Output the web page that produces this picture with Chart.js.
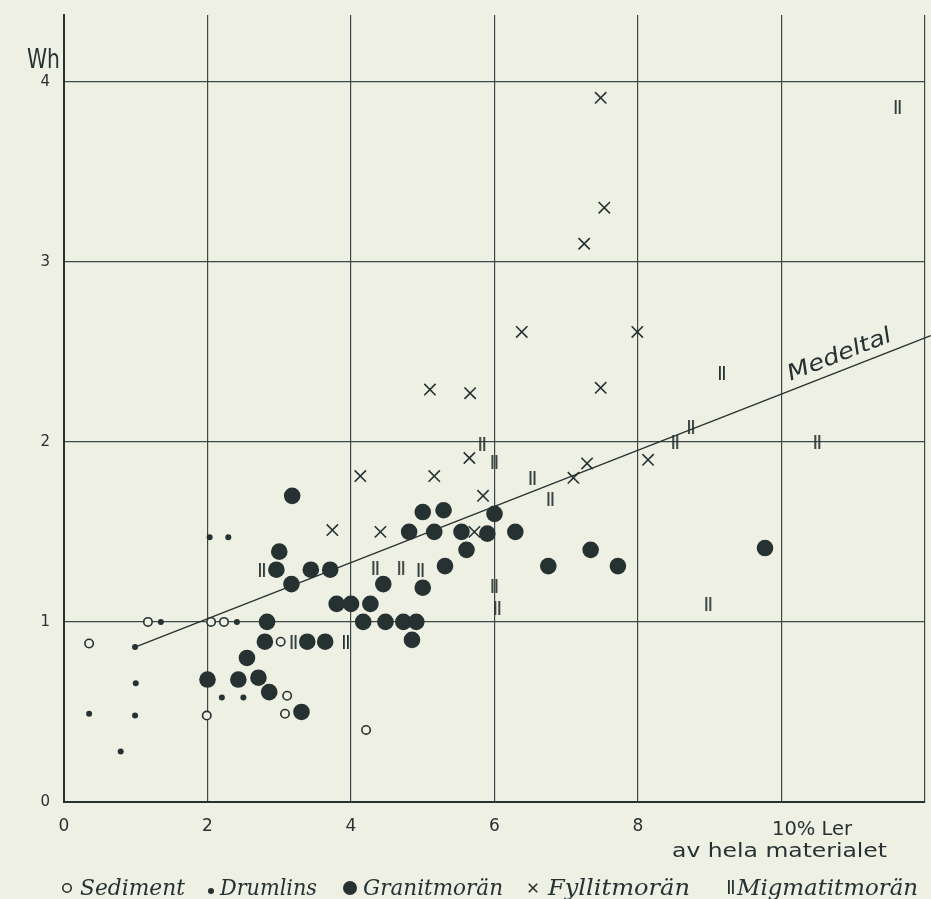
<!DOCTYPE html>
<html>
<head>
<meta charset="utf-8">
<script src="https://cdn.jsdelivr.net/npm/chart.js@4.4.1/dist/chart.umd.min.js"></script>
<style>
  html, body { margin: 0; padding: 0; background: #eff0e4; }
  #wrap { width: 931px; height: 899px; }
</style>
</head>
<body>
<div id="wrap"><canvas id="lerChart" width="931" height="899"></canvas></div>
<script>
// x = % Ler av hela materialet, y = Wh
const sediment = [[0.35, 0.88], [1.17, 1.0], [2.05, 1.0], [2.23, 1.0], [3.02, 0.89], [3.11, 0.59],
    [1.99, 0.48], [3.08, 0.49], [4.21, 0.40]];
const drumlins = [[1.35, 1.0], [2.41, 1.0], [0.99, 0.86], [2.03, 1.47], [2.29, 1.47], [1.0, 0.66],
    [0.35, 0.49], [0.99, 0.48], [0.79, 0.28], [2.2, 0.58], [2.5, 0.58]];
const granit = [[3.18, 1.70], [3.0, 1.39], [2.96, 1.29], [3.44, 1.29], [3.71, 1.29], [3.17, 1.21],
    [3.8, 1.10], [4.0, 1.10], [4.27, 1.10], [2.83, 1.0], [4.17, 1.0], [4.48, 1.0], [4.73, 1.0],
    [4.91, 1.0], [2.8, 0.89], [3.39, 0.89], [3.64, 0.89], [4.85, 0.90], [2.55, 0.80], [2.0, 0.68],
    [2.43, 0.68], [2.71, 0.69], [2.86, 0.61], [3.31, 0.50], [5.0, 1.61], [5.29, 1.62], [6.0, 1.60],
    [4.81, 1.50], [5.16, 1.50], [5.54, 1.50], [5.9, 1.49], [6.29, 1.50], [5.61, 1.40], [7.34, 1.40],
    [5.31, 1.31], [6.75, 1.31], [7.72, 1.31], [4.45, 1.21], [5.0, 1.19], [9.77, 1.41]];
const fyllit = [[3.74, 1.51], [4.13, 1.81], [4.41, 1.50], [5.16, 1.81], [5.65, 1.91], [5.84, 1.70],
    [5.72, 1.50], [7.1, 1.80], [7.29, 1.88], [8.14, 1.90], [7.48, 3.91], [7.53, 3.30], [7.25, 3.10],
    [6.38, 2.61], [7.99, 2.61], [7.48, 2.30], [5.1, 2.29], [5.66, 2.27]];
const migmatit = [[2.76, 1.29], [3.2, 0.89], [3.93, 0.89], [4.34, 1.30], [4.7, 1.30], [4.97, 1.29],
    [5.83, 1.99], [6.0, 1.89], [6.53, 1.80], [6.78, 1.68], [6.0, 1.2], [6.04, 1.08], [8.98, 1.10],
    [8.52, 2.0], [8.74, 2.08], [10.5, 2.0], [9.17, 2.38], [11.62, 3.86]];
const medeltal = [[0.99, 0.86], [12.08, 2.59]];

const xTicks = [0, 2, 4, 6, 8, 10, 12];
const yTicks = [0, 1, 2, 3, 4];
const seriesNames = ["Sediment", "Drumlins", "Granitmorän", "Fyllitmorän", "Migmatitmorän"];

const INK = "#263231";
const PAPER = "#eff0e4";
const GRID = "#3c4845";

const toPoints = arr => arr.map(p => ({ x: p[0], y: p[1] }));

// double bar symbol for Migmatitmorän
const migSymbol = document.createElement("canvas");
migSymbol.width = 8;
migSymbol.height = 14;
(function () {
    const c = migSymbol.getContext("2d");
    c.fillStyle = INK;
    c.fillRect(1, 0, 1.8, 14);
    c.fillRect(5, 0, 1.8, 14);
})();

const styles = [
    { pointStyle: "circle", radius: 4.2, bw: 1.6, bg: PAPER },
    { pointStyle: "circle", radius: 3, bw: 0, bg: INK },
    { pointStyle: "circle", radius: 8.3, bw: 0, bg: INK },
    { pointStyle: "crossRot", radius: 8, bw: 1.6, bg: INK },
    { pointStyle: migSymbol, radius: 7, bw: 0, bg: INK },
];

const seriesData = [sediment, drumlins, granit, fyllit, migmatit];

const datasets = seriesData.map((arr, i) => ({
    label: seriesNames[i],
    data: toPoints(arr),
    pointStyle: styles[i].pointStyle,
    pointRadius: styles[i].radius,
    pointBorderWidth: styles[i].bw,
    pointBorderColor: INK,
    pointBackgroundColor: styles[i].bg,
    showLine: false,
}));

datasets.push({
    label: "Medeltal",
    data: toPoints(medeltal),
    showLine: true,
    borderColor: INK,
    borderWidth: 1.3,
    pointRadius: 0,
    clip: false,
});

const paperPlugin = {
    id: "paper",
    beforeDraw(chart) {
        const c = chart.ctx;
        c.save();
        c.fillStyle = PAPER;
        c.fillRect(0, 0, chart.width, chart.height);
        c.restore();
    }
};

// fit a string into a given width
function fitText(c, text, x, y, width) {
    const w = c.measureText(text).width;
    c.save();
    c.translate(x, y);
    c.scale(width / w, 1);
    c.fillText(text, 0, 0);
    c.restore();
}

const labelsPlugin = {
    id: "labels",
    afterDraw(chart) {
        const c = chart.ctx;
        const xs = chart.scales.x, ys = chart.scales.y;
        c.save();
        c.fillStyle = INK;
        c.textBaseline = "alphabetic";

        c.font = "27px 'DejaVu Sans'";
        fitText(c, "Wh", 27, 68, 33);

        c.font = "19px 'DejaVu Sans'";
        fitText(c, "10% Ler", 772, 835, 80);
        c.font = "20px 'DejaVu Sans'";
        fitText(c, "av hela materialet", 672, 857, 215);

        // Medeltal along the line
        const x0 = xs.getPixelForValue(medeltal[0][0]), y0 = ys.getPixelForValue(medeltal[0][1]);
        const x1 = xs.getPixelForValue(medeltal[1][0]), y1 = ys.getPixelForValue(medeltal[1][1]);
        const ang = Math.atan2(y1 - y0, x1 - x0);
        const tx = 792;
        const ty = y0 + (tx - x0) * (y1 - y0) / (x1 - x0);
        c.save();
        c.translate(tx, ty);
        c.rotate(ang);
        c.font = "italic 22px 'DejaVu Sans'";
        fitText(c, "Medeltal", 2, -9, 110);
        c.restore();

        // legend
        const legend = [
            { sx: 67, sy: 888, tx: 80, tw: 105 },
            { sx: 211, sy: 891, tx: 220, tw: 97 },
            { sx: 350, sy: 888, tx: 363, tw: 140 },
            { sx: 533, sy: 888, tx: 548, tw: 142 },
            { sx: 731, sy: 887, tx: 737, tw: 181 },
        ];
        const legendRadius = [4.2, 3, 7, 6, 7];
        c.font = "italic 22px 'DejaVu Serif'";
        legend.forEach((l, i) => {
            c.save();
            c.strokeStyle = INK;
            c.fillStyle = styles[i].bg;
            c.lineWidth = styles[i].bw;
            Chart.helpers.drawPoint(c, {
                pointStyle: styles[i].pointStyle,
                radius: legendRadius[i],
                borderWidth: styles[i].bw,
                rotation: 0,
            }, l.sx, l.sy);
            c.restore();
            c.fillStyle = INK;
            fitText(c, seriesNames[i], l.tx, 895, l.tw);
        });
        c.restore();
    }
};

new Chart(document.getElementById("lerChart"), {
    type: "scatter",
    data: { datasets: datasets },
    options: {
        responsive: false,
        animation: false,
        events: [],
        layout: { autoPadding: false, padding: { top: 15, right: 6, left: 0, bottom: 0 } },
        plugins: {
            legend: { display: false },
            tooltip: { enabled: false },
        },
        scales: {
            x: {
                type: "linear",
                min: 0,
                max: 12,
                afterBuildTicks: scale => { scale.ticks = xTicks.map(v => ({ value: v })); },
                afterFit: scale => {
                    scale.height = 97;
                    scale.paddingLeft = 0;
                    scale.paddingRight = 0;
                },
                ticks: {
                    padding: 14,
                    color: INK,
                    font: { family: "'DejaVu Sans'", size: 17 },
                    callback: v => (v >= 10 ? "" : v),
                },
                grid: { color: GRID, lineWidth: 1.2, drawTicks: false },
                border: { color: INK, width: 2 },
            },
            y: {
                type: "linear",
                min: 0,
                max: 4.37,
                afterBuildTicks: scale => { scale.ticks = yTicks.map(v => ({ value: v })); },
                afterFit: scale => {
                    scale.width = 64;
                    scale.paddingTop = 0;
                    scale.paddingBottom = 0;
                },
                ticks: {
                    padding: 14,
                    color: INK,
                    font: { family: "'DejaVu Sans'", size: 15 },
                },
                grid: { color: GRID, lineWidth: 1.2, drawTicks: false },
                border: { color: INK, width: 2 },
            }
        }
    },
    plugins: [paperPlugin, labelsPlugin]
});
</script>
</body>
</html>
